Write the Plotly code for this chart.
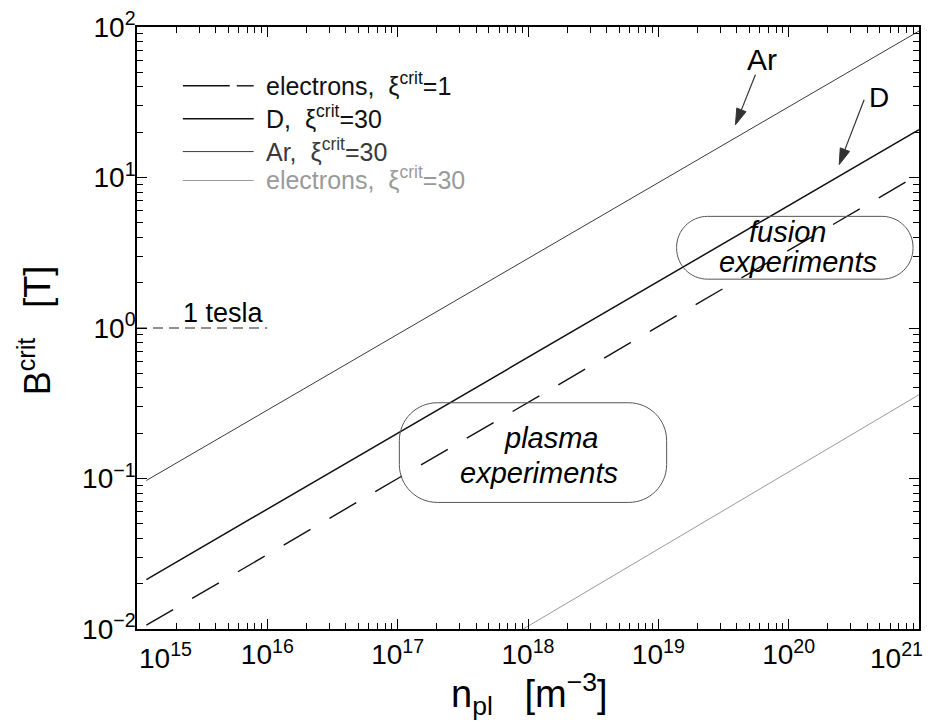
import plotly.graph_objects as go

# ---------------- data ----------------
series_names = ["electrons, ξcrit=1", "D, ξcrit=30", "Ar, ξcrit=30", "electrons, ξcrit=30"]
n_start = [1.18e15, 1.18e15, 1.18e15, 9.2e17]
n_end = [1e21, 1e21, 1e21, 1e21]
B_start = [0.0106, 0.0213, 0.097, 0.01]
B_end = [10.5, 20.8, 94.0, 0.36]

one_tesla_n = [1e15, 1e16]
one_tesla_B = [1.0, 1.0]

x_tickvals = [1e15, 1e16, 1e17, 1e18, 1e19, 1e20, 1e21]
x_ticktext = ["", "10<sup>16</sup>", "10<sup>17</sup>", "10<sup>18</sup>",
              "10<sup>19</sup>", "10<sup>20</sup>", ""]
y_tickvals = [1e-2, 1e-1, 1e0, 1e1, 1e2]
y_ticktext = ["10<sup>−2</sup>", "10<sup>−1</sup>", "10<sup>0</sup>",
              "10<sup>1</sup>", "10<sup>2</sup>"]

# ---------------- styling ----------------
FONT = "Liberation Sans"
W, H = 928, 724
L, R, T, B = 137, 7, 25, 95
PW, PH = W - L - R, H - T - B

def px(x):
    return (x - L) / PW

def py(y):
    return (H - B - y) / PH

styles = [
    dict(color="#111111", width=1.4, dash="31px,22px"),
    dict(color="#111111", width=1.5),
    dict(color="#3a3a3a", width=1.0),
    dict(color="#9a9a9a", width=1.0),
]

fig = go.Figure()
for i in range(len(series_names)):
    fig.add_trace(go.Scatter(
        x=[n_start[i], n_end[i]], y=[B_start[i], B_end[i]],
        mode="lines", line=styles[i], name=series_names[i],
        hoverinfo="skip"))

fig.add_trace(go.Scatter(x=one_tesla_n, y=one_tesla_B, mode="lines",
                         line=dict(color="#222222", width=1, dash="10px,6px"),
                         hoverinfo="skip"))

axis_common = dict(
    type="log", showgrid=False, zeroline=False,
    showline=True, linecolor="black", linewidth=1.6, mirror="allticks",
    ticks="inside", ticklen=10, tickwidth=1.2, tickcolor="black",
    tickfont=dict(family=FONT, size=28, color="black"),
    minor=dict(ticks="inside", ticklen=6, tickwidth=1, tickcolor="black",
               showgrid=False, dtick="D1"),
)

fig.update_layout(
    width=W, height=H,
    margin=dict(l=L, r=R, t=T, b=B),
    paper_bgcolor="white", plot_bgcolor="white",
    showlegend=False,
    xaxis=dict(axis_common, range=[15, 21], tickmode="array",
               tickvals=x_tickvals, ticktext=x_ticktext),
    yaxis=dict(axis_common, range=[-2, 2], tickmode="array",
               tickvals=y_tickvals, ticktext=y_ticktext,
               ticklabelstandoff=-6),
)

shapes = []
annotations = []

def seg(x0, y0, x1, y1, color, width, dash="solid"):
    shapes.append(dict(type="line", xref="paper", yref="paper",
                       x0=px(x0), y0=py(y0), x1=px(x1), y1=py(y1),
                       line=dict(color=color, width=width, dash=dash)))

def text(x, y, s, size, color="black", xanchor="center", yanchor="middle", angle=0):
    annotations.append(dict(xref="paper", yref="paper", x=px(x), y=py(y),
                            text=s, showarrow=False, xanchor=xanchor,
                            yanchor=yanchor, textangle=angle,
                            font=dict(family=FONT, size=size, color=color)))

# legend (drawn by hand)
seg(183, 84, 230, 84, "#111111", 1.4)
seg(237, 84, 254, 84, "#111111", 1.4)
seg(183, 117, 254, 117, "#111111", 1.5)
seg(183, 150, 254, 150, "#3a3a3a", 1.0)
seg(183, 179, 254, 179, "#9a9a9a", 1.0)
leg_labels = ["electrons,\u00a0\u00a0ξ<sup>crit</sup>=1",
              "D,\u00a0\u00a0ξ<sup>crit</sup>=30",
              "Ar,\u00a0\u00a0ξ<sup>crit</sup>=30",
              "electrons,\u00a0\u00a0ξ<sup>crit</sup>=30"]
leg_colors = ["#111111", "#111111", "#3a3a3a", "#9a9a9a"]
for yy, lab, col in zip([84, 117, 150, 179], leg_labels, leg_colors):
    text(264, yy - 2, lab, 25, col, xanchor="left")

# rounded boxes
def rounded_box(x0, y0, x1, y1, r):
    k = 0.5523 * r
    def P(x, y):
        return f"{px(x):.5f},{py(y):.5f}"
    d = (f"M{P(x0 + r, y0)} L{P(x1 - r, y0)} "
         f"C{P(x1 - r + k, y0)} {P(x1, y0 + r - k)} {P(x1, y0 + r)} "
         f"L{P(x1, y1 - r)} "
         f"C{P(x1, y1 - r + k)} {P(x1 - r + k, y1)} {P(x1 - r, y1)} "
         f"L{P(x0 + r, y1)} "
         f"C{P(x0 + r - k, y1)} {P(x0, y1 - r + k)} {P(x0, y1 - r)} "
         f"L{P(x0, y0 + r)} "
         f"C{P(x0, y0 + r - k)} {P(x0 + r - k, y0)} {P(x0 + r, y0)} Z")
    shapes.append(dict(type="path", xref="paper", yref="paper", path=d,
                       line=dict(color="#555555", width=1)))

rounded_box(678, 215, 915, 278, 31)
rounded_box(400, 402, 668, 502, 38)
text(789, 231, "<i>fusion</i>", 29)
text(800, 261, "<i>experiments</i>", 29)
text(553, 437, "<i>plasma</i>", 29)
text(540, 472, "<i>experiments</i>", 29)

# arrows
def arrow(xt, yt, xh, yh, length=16, half=5):
    dx, dy = xh - xt, yh - yt
    n = (dx * dx + dy * dy) ** 0.5
    ux, uy = dx / n, dy / n
    bx, by = xh - length * ux, yh - length * uy
    seg(xt, yt, bx, by, "#333333", 1.2)
    c1 = (bx - half * uy, by + half * ux)
    c2 = (bx + half * uy, by - half * ux)
    d = (f"M{px(xh):.5f},{py(yh):.5f} L{px(c1[0]):.5f},{py(c1[1]):.5f} "
         f"L{px(c2[0]):.5f},{py(c2[1]):.5f} Z")
    shapes.append(dict(type="path", xref="paper", yref="paper", path=d,
                       fillcolor="#333333", line=dict(color="#333333", width=1)))

arrow(757, 73, 737, 123)
arrow(866, 98, 841, 163)
text(764, 58, "Ar", 30)
text(881, 96, "D", 28)

text(224, 312, "1 tesla", 27)

# end tick labels kept inside the page
text(137, 636, "10<sup>15</sup>", 28, xanchor="left", yanchor="top")
text(927, 636, "10<sup>21</sup>", 28, xanchor="right", yanchor="top")

# axis titles
text(35, 329, "B<sup>crit</sup>\u00a0\u00a0\u00a0[T]", 36, angle=-90)
text(531, 694, "n<sub>pl</sub>\u00a0\u00a0\u00a0[m<sup>−3</sup>]", 38)

fig.update_layout(shapes=shapes, annotations=annotations)
fig.write_html("out.html")
